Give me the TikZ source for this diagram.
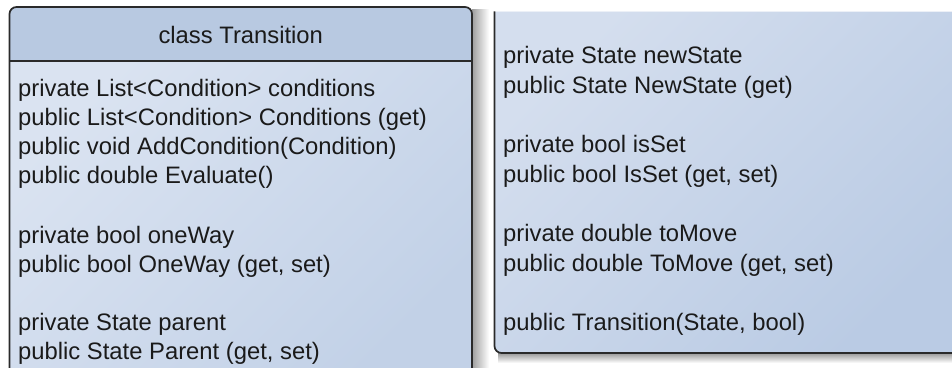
\documentclass[tikz,border=0pt]{standalone}
\usepackage{fontspec}
\setmainfont{Liberation Sans}
\definecolor{hdrfill}{HTML}{B8C9E1}
\definecolor{bodytl}{HTML}{DAE3F1}
\definecolor{bodybr}{HTML}{C2D1E7}
\definecolor{conttl}{HTML}{D4DEEE}
\definecolor{contbr}{HTML}{BACBE4}
\definecolor{edge}{HTML}{2A2A2A}
\definecolor{ink}{HTML}{1A1A1A}
\begin{document}
\begin{tikzpicture}[x=1pt,y=1pt,
  outline/.style={draw=edge, line width=1.7pt},
  member/.style={anchor=base west, inner sep=0pt, text=ink,
                 font=\fontsize{23.8}{29}\selectfont},
  heading/.style={anchor=base, inner sep=0pt, text=ink,
                  font=\fontsize{23.8}{29}\selectfont}]
\useasboundingbox (0,0) rectangle (952,367);
\clip (0,0) rectangle (952,367);

% ---- first column of the class box ----
% drop shadow on the right side
\shade[left color=black!38, right color=white] (472,-10) rectangle (489,357);
% member compartment
\shade[top color=bodytl, bottom color=bodybr, shading angle=45]
  (9.5,-10) rectangle (472,306);
% name compartment
\fill[hdrfill] (9.5,306) [rounded corners=7pt] -- (9.5,360) -- (472,360)
  [sharp corners] -- (472,306) -- cycle;
\draw[outline] (9.5,-10) [rounded corners=7pt] -- (9.5,360) -- (472,360)
  [sharp corners] -- (472,-10);
\draw[draw=edge, line width=1.3pt] (9.5,306) -- (472,306);

\node[heading] (title) at (240.75,323.5) {class Transition};

\node[member] (m1) at (18,270) {private List<Condition> conditions};
\node[member] (m2) at (18,241) {public List<Condition> Conditions (get)};
\node[member] (m3) at (18,212) {public void AddCondition(Condition)};
\node[member] (m4) at (18,183) {public double Evaluate()};
\node[member] (m5) at (18,124) {private bool oneWay};
\node[member] (m6) at (18,95) {public bool OneWay (get, set)};
\node[member] (m7) at (18,37) {private State parent};
\node[member] (m8) at (18,8) {public State Parent (get, set)};

% ---- continuation column of the class box ----
% drop shadow along the bottom
\shade[top color=black!40, bottom color=white] (498,14) rectangle (962,4);
\shade[top color=conttl, bottom color=contbr, shading angle=45]
  (494.5,355) [rounded corners=7pt] -- (494.5,14) [sharp corners]
  -- (962,14) -- (962,355) -- cycle;
\draw[white!55!conttl, line width=1pt] (495.5,355) -- (962,355);
\draw[outline] (494.5,355.5) [rounded corners=7pt] -- (494.5,14) -- (962,14);

\node[member] (r1) at (503,303) {private State newState};
\node[member] (r2) at (503,273.5) {public State NewState (get)};
\node[member] (r3) at (503,214) {private bool isSet};
\node[member] (r4) at (503,184.5) {public bool IsSet (get, set)};
\node[member] (r5) at (503,125.5) {private double toMove};
\node[member] (r6) at (503,96) {public double ToMove (get, set)};
\node[member] (r7) at (503,36.5) {public Transition(State, bool)};
\end{tikzpicture}
\end{document}
